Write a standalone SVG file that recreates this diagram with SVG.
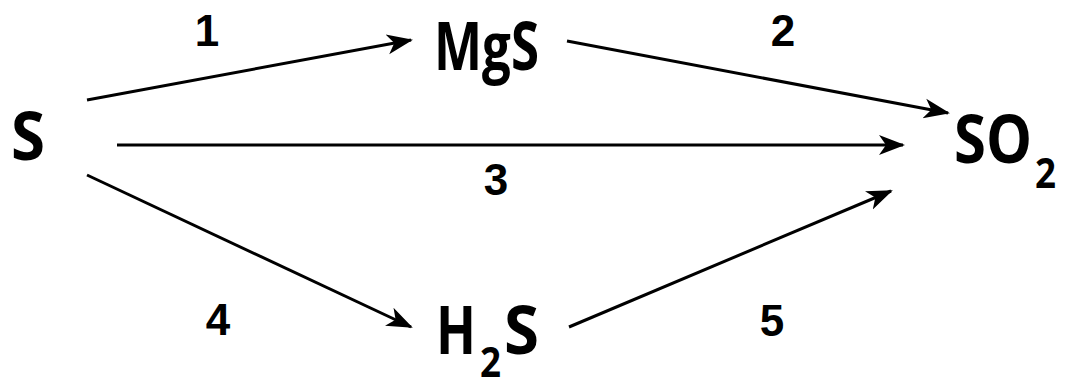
<svg xmlns="http://www.w3.org/2000/svg" width="1068" height="381" viewBox="0 0 1068 381">
  <style>
    .chem { font-family: "Open Sans", "Liberation Sans", sans-serif; font-weight: 700; font-size: 66px; fill: #000; }
    .sub { font-family: "Open Sans", "Liberation Sans", sans-serif; font-weight: 700; font-size: 42px; fill: #000; }
    .num { font-family: "Liberation Sans", Arial, sans-serif; font-weight: 700; font-size: 44px; fill: #000; text-anchor: middle; }
    .conn { stroke: #000; stroke-width: 3; fill: none; marker-end: url(#arrow); }
  </style>
  <defs>
    <marker id="arrow" markerUnits="userSpaceOnUse" markerWidth="28" markerHeight="24" viewBox="0 0 28 24" refX="24" refY="12" orient="auto">
      <path d="M0,2 L26,12 L0,22 L7,12 Z" fill="#000"/>
    </marker>
  </defs>
  <rect width="1068" height="381" fill="#fff"/>
  <g id="connectors">
    <line class="conn" x1="87" y1="100" x2="411" y2="40"/>
    <line class="conn" x1="567" y1="41" x2="948" y2="113"/>
    <line class="conn" x1="117" y1="145" x2="903" y2="145"/>
    <line class="conn" x1="87" y1="175" x2="411" y2="327"/>
    <line class="conn" x1="569" y1="327" x2="891" y2="191"/>
    <text class="num" x="207" y="46">1</text>
    <text class="num" x="783" y="46">2</text>
    <text class="num" x="496" y="195">3</text>
    <text class="num" x="218" y="335">4</text>
    <text class="num" x="772" y="336">5</text>
  </g>
  <g id="node-S">
    <text class="chem" x="11" y="160" textLength="34" lengthAdjust="spacingAndGlyphs">S</text>
  </g>
  <g id="node-MgS">
    <text class="chem" x="434" y="70" textLength="105" lengthAdjust="spacingAndGlyphs">MgS</text>
  </g>
  <g id="node-SO2">
    <text class="chem" x="954" y="163" textLength="78" lengthAdjust="spacingAndGlyphs">SO</text>
    <text class="sub" x="1035" y="188" textLength="21" lengthAdjust="spacingAndGlyphs">2</text>
  </g>
  <g id="node-H2S">
    <text class="chem" x="436" y="354" textLength="40" lengthAdjust="spacingAndGlyphs">H</text>
    <text class="sub" x="480" y="377" textLength="21" lengthAdjust="spacingAndGlyphs">2</text>
    <text class="chem" x="504" y="354" textLength="35" lengthAdjust="spacingAndGlyphs">S</text>
  </g>
</svg>
